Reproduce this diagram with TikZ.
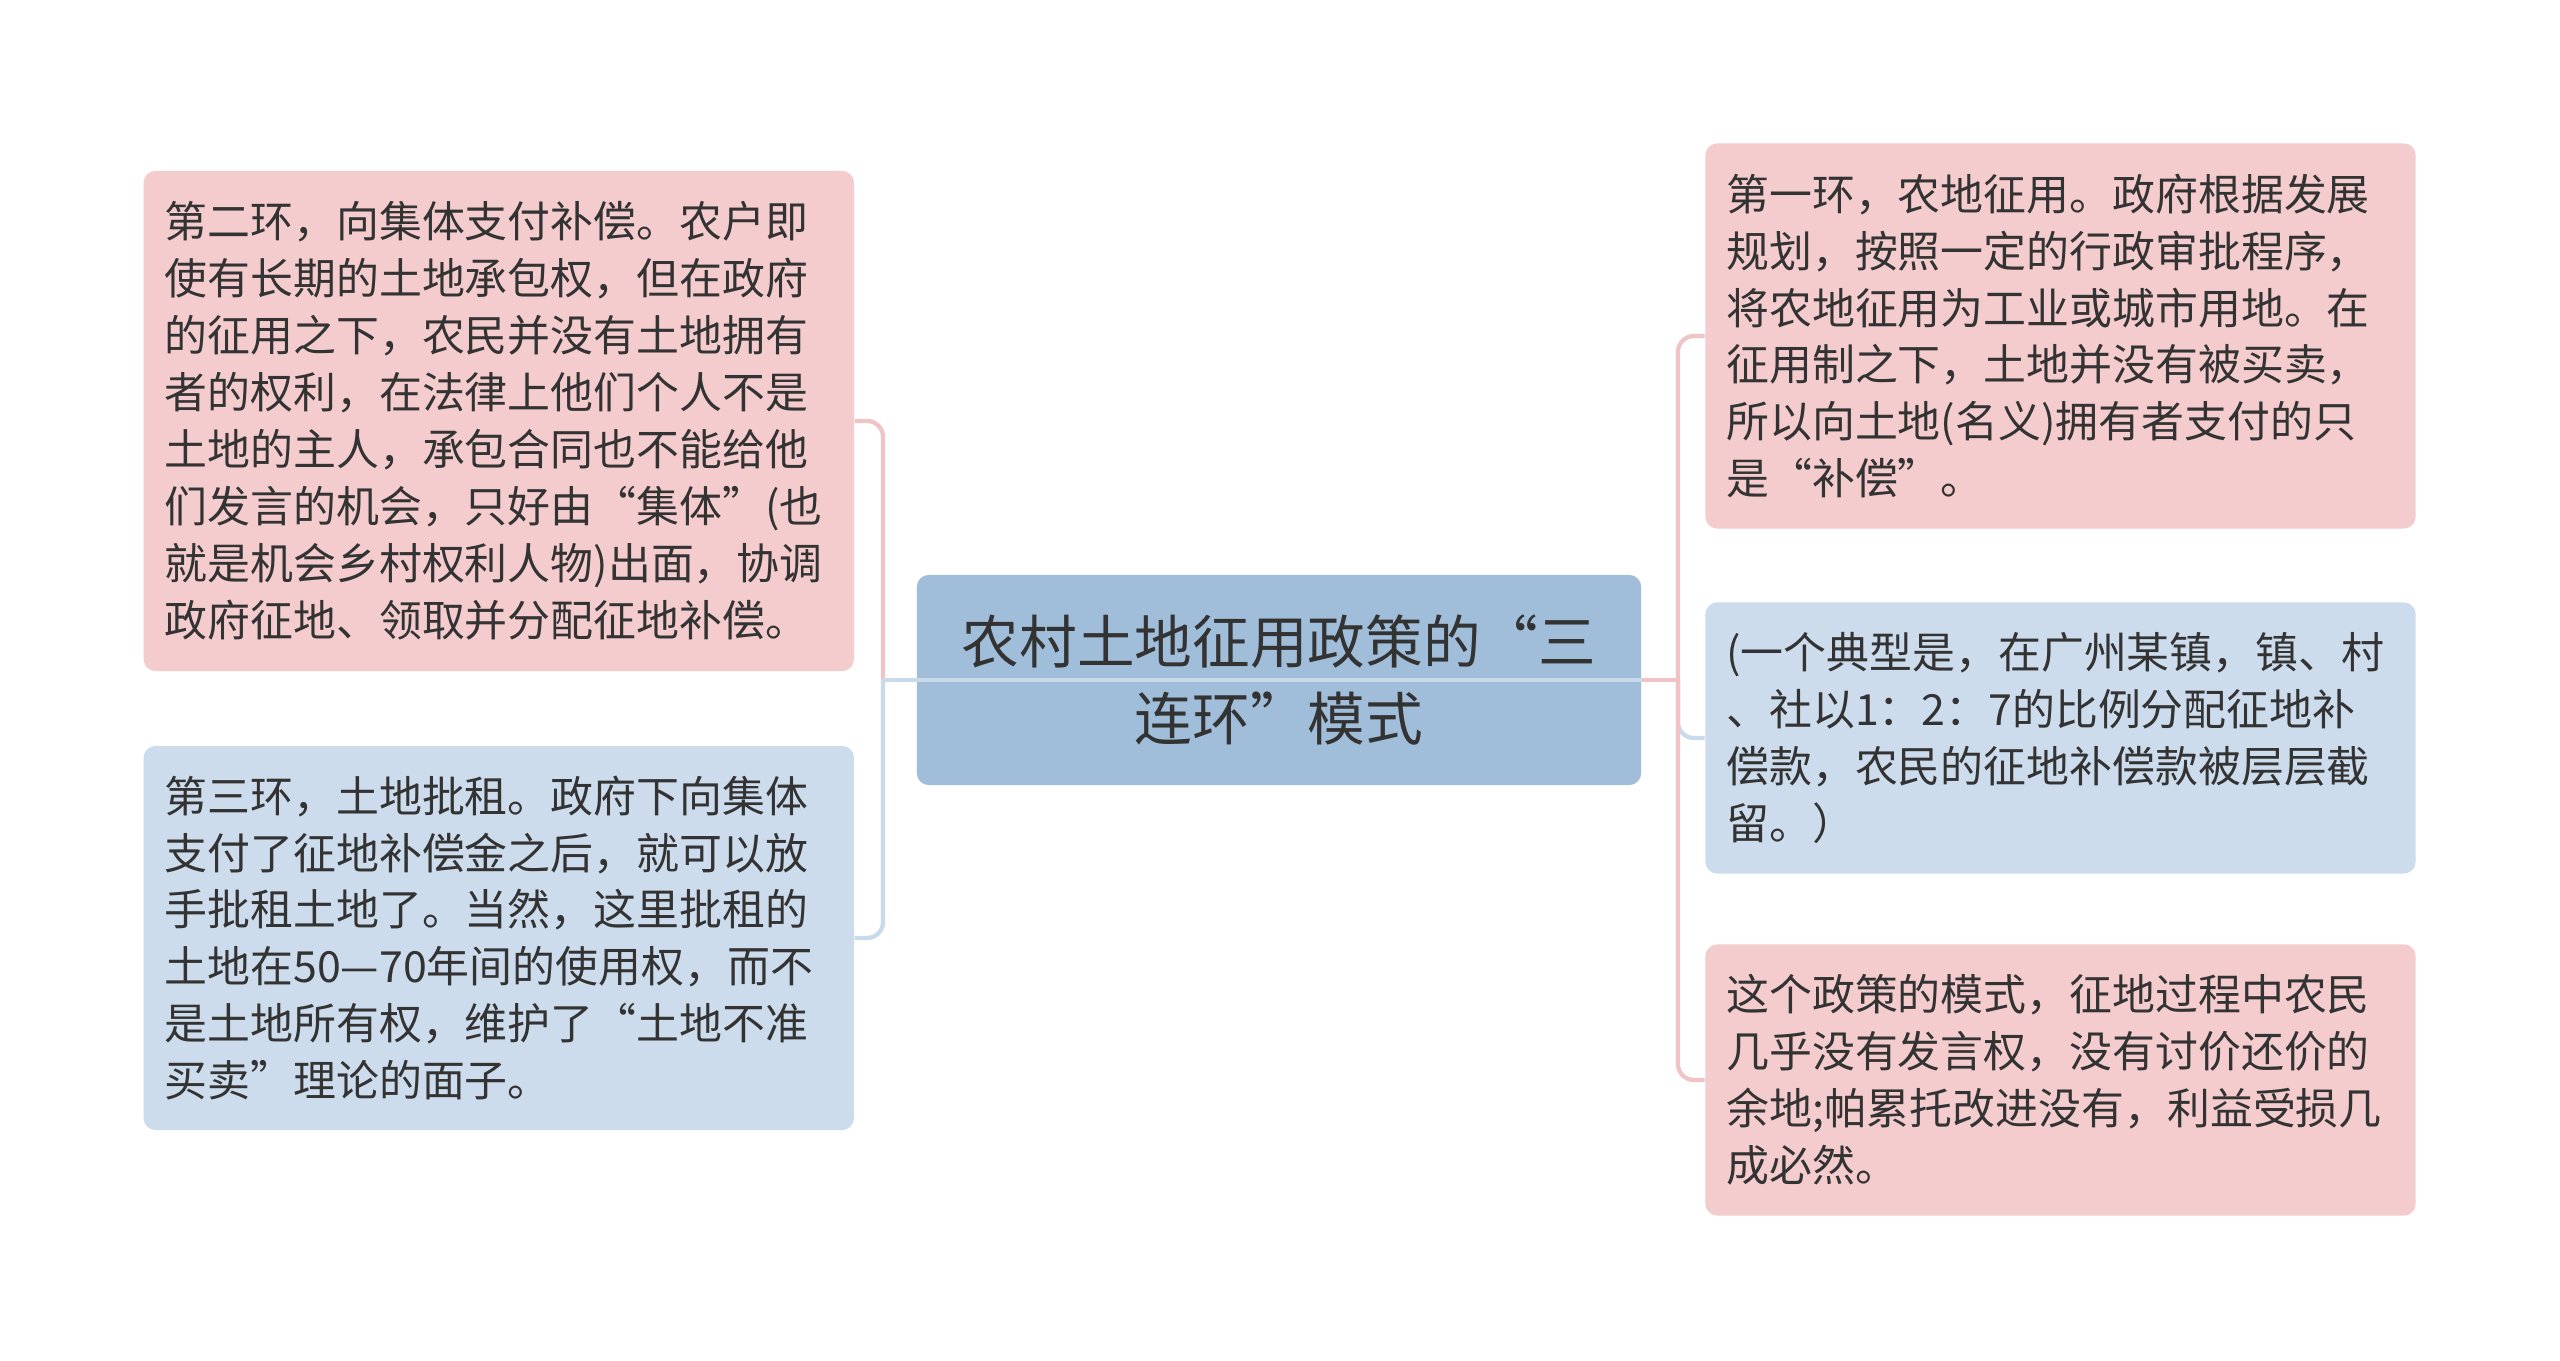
\documentclass[tikz,border=0pt]{standalone}
\usepackage{fontspec}
\newfontfamily\cjk{Noto Sans CJK SC}
\usepackage{tikz}
\definecolor{pinkfill}{HTML}{F4CCCE}
\definecolor{bluefill}{HTML}{CCDCEC}
\definecolor{rootfill}{HTML}{A0BEDA}
\definecolor{pinkwire}{HTML}{F0C4C7}
\definecolor{bluewire}{HTML}{C9DAEB}
\definecolor{txt}{HTML}{333333}
\tikzstyle{leaf}=[rectangle, rounded corners=0.12cm, text=txt, font=\cjk\fontsize{12.2pt}{16.2pt}\selectfont, align=left, text width=6.68cm, inner xsep=0.21cm, inner ysep=0pt, minimum width=7.1cm]
\tikzstyle{pinkleaf}=[leaf, fill=pinkfill]
\tikzstyle{blueleaf}=[leaf, fill=bluefill]
\tikzstyle{root}=[rectangle, rounded corners=0.12cm, fill=rootfill, text=txt, font=\cjk\fontsize{16.4pt}{21.8pt}\selectfont, align=center, minimum width=7.24cm, minimum height=2.1cm]
\tikzstyle{pinkconn}=[draw=pinkwire, line width=1.2pt]
\tikzstyle{blueconn}=[draw=bluewire, line width=1.2pt]

\begin{document}
\begin{tikzpicture}[x=0.01cm, y=-0.01cm]
  \useasboundingbox (0,0) rectangle (2560,1361);
  \fill[white] (0,0) rectangle (2560,1361);

  \node[root] (v0) at (1279,680) {农村土地征用政策的“三\\连环”模式};

  \node[pinkleaf, minimum height=5cm] (v1) at (498.8,421) {第二环，向集体支付补偿。农户即\\使有长期的土地承包权，但在政府\\的征用之下，农民并没有土地拥有\\者的权利，在法律上他们个人不是\\土地的主人，承包合同也不能给他\\们发言的机会，只好由“集体”(也\\就是机会乡村权利人物)出面，协调\\政府征地、领取并分配征地补偿。};
  \node[blueleaf, minimum height=3.84cm] (v2) at (498.8,938) {第三环，土地批租。政府下向集体\\支付了征地补偿金之后，就可以放\\手批租土地了。当然，这里批租的\\土地在50—70年间的使用权，而不\\是土地所有权，维护了“土地不准\\买卖”理论的面子。};

  \node[pinkleaf, minimum height=3.85cm] (v3) at (2060.5,336) {第一环，农地征用。政府根据发展\\规划，按照一定的行政审批程序，\\将农地征用为工业或城市用地。在\\征用制之下，土地并没有被买卖，\\所以向土地(名义)拥有者支付的只\\是“补偿”。};
  \node[blueleaf, minimum height=2.71cm] (v4) at (2060.5,738) {(一个典型是，在广州某镇，镇、村\\、社以1：2：7的比例分配征地补\\偿款，农民的征地补偿款被层层截\\留。）};
  \node[pinkleaf, minimum height=2.71cm] (v5) at (2060.5,1080) {这个政策的模式，征地过程中农民\\几乎没有发言权，没有讨价还价的\\余地;帕累托改进没有，利益受损几\\成必然。};

  \path (v0.west) ++(-33,0) coordinate (j1);
  \path (v0.east) ++(36,0) coordinate (j2);

  % left side
  \draw[blueconn, rounded corners=0.16cm] (j1) |- (v2.east);
  \draw[pinkconn, rounded corners=0.16cm] (j1) |- (v1.east);
  \draw[blueconn] (j1) -- (v0.east);

  % right side
  \draw[blueconn, rounded corners=0.16cm] (j2) |- (v4.west);
  \draw[pinkconn, rounded corners=0.16cm] (j2) |- (v3.west);
  \draw[pinkconn, rounded corners=0.16cm] (j2) |- (v5.west);
  \draw[pinkconn] (v0.east) -- (j2);
\end{tikzpicture}
\end{document}
